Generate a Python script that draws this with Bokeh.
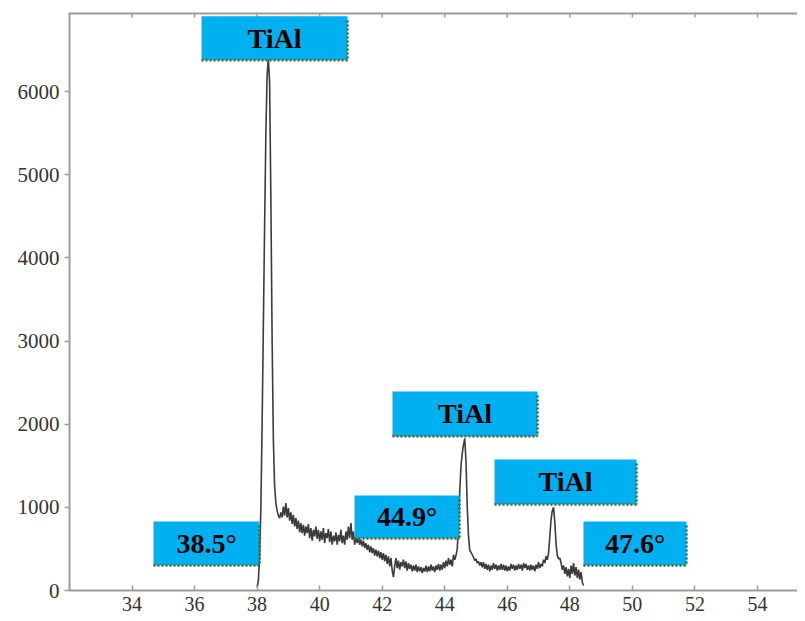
from bokeh.plotting import figure
from bokeh.models import Range1d, FixedTicker, ColumnDataSource
from bokeh.core.properties import value
from bokeh.embed import file_html
from bokeh.resources import INLINE

# ---------------- data ----------------
two_theta = [
    38.00, 38.04, 38.08, 38.12, 38.16, 38.20, 38.24, 38.28, 38.32, 38.36,
    38.40, 38.44, 38.48, 38.52, 38.56, 38.60, 38.64, 38.68, 38.72, 38.76,
    38.80, 38.84, 38.88, 38.92, 38.96, 39.00, 39.04, 39.08, 39.12, 39.16,
    39.20, 39.24, 39.28, 39.32, 39.36, 39.40, 39.44, 39.48, 39.52, 39.56,
    39.60, 39.64, 39.68, 39.72, 39.76, 39.80, 39.84, 39.88, 39.92, 39.96,
    40.00, 40.04, 40.08, 40.12, 40.16, 40.20, 40.24, 40.28, 40.32, 40.36,
    40.40, 40.44, 40.48, 40.52, 40.56, 40.60, 40.64, 40.68, 40.72, 40.76,
    40.80, 40.84, 40.88, 40.92, 40.96, 41.00, 41.04, 41.08, 41.12, 41.16,
    41.20, 41.24, 41.28, 41.32, 41.36, 41.40, 41.44, 41.48, 41.52, 41.56,
    41.60, 41.64, 41.68, 41.72, 41.76, 41.80, 41.84, 41.88, 41.92, 41.96,
    42.00, 42.04, 42.08, 42.12, 42.16, 42.20, 42.24, 42.28, 42.32, 42.36,
    42.40, 42.44, 42.48, 42.52, 42.56, 42.60, 42.64, 42.68, 42.72, 42.76,
    42.80, 42.84, 42.88, 42.92, 42.96, 43.00, 43.04, 43.08, 43.12, 43.16,
    43.20, 43.24, 43.28, 43.32, 43.36, 43.40, 43.44, 43.48, 43.52, 43.56,
    43.60, 43.64, 43.68, 43.72, 43.76, 43.80, 43.84, 43.88, 43.92, 43.96,
    44.00, 44.04, 44.08, 44.12, 44.16, 44.20, 44.24, 44.28, 44.32, 44.36,
    44.40, 44.44, 44.48, 44.52, 44.56, 44.60, 44.64, 44.68, 44.72, 44.76,
    44.80, 44.84, 44.88, 44.92, 44.96, 45.00, 45.04, 45.08, 45.12, 45.16,
    45.20, 45.24, 45.28, 45.32, 45.36, 45.40, 45.44, 45.48, 45.52, 45.56,
    45.60, 45.64, 45.68, 45.72, 45.76, 45.80, 45.84, 45.88, 45.92, 45.96,
    46.00, 46.04, 46.08, 46.12, 46.16, 46.20, 46.24, 46.28, 46.32, 46.36,
    46.40, 46.44, 46.48, 46.52, 46.56, 46.60, 46.64, 46.68, 46.72, 46.76,
    46.80, 46.84, 46.88, 46.92, 46.96, 47.00, 47.04, 47.08, 47.12, 47.16,
    47.20, 47.24, 47.28, 47.32, 47.36, 47.40, 47.44, 47.48, 47.52, 47.56,
    47.60, 47.64, 47.68, 47.72, 47.76, 47.80, 47.84, 47.88, 47.92, 47.96,
    48.00, 48.04, 48.08, 48.12, 48.16, 48.20, 48.24, 48.28, 48.32, 48.36,
    48.40, 48.44,
]
intensity = [
    40, 120, 400, 1000, 2000, 3200, 4400, 5500, 6200, 6400,
    6100, 4700, 3000, 1800, 1250, 1050, 960, 900, 870, 940,
    880, 1010, 900, 1050, 880, 990, 840, 940, 800, 910,
    770, 870, 740, 840, 700, 810, 690, 790, 660, 770,
    690, 800, 630, 750, 600, 730, 650, 770, 620, 730,
    590, 710, 610, 750, 570, 690, 630, 740, 580, 710,
    550, 660, 590, 700, 550, 670, 590, 730, 570, 660,
    550, 710, 610, 770, 630, 810, 610, 710, 550, 650,
    570, 630, 550, 610, 530, 600, 510, 570, 490, 550,
    460, 530, 450, 510, 420, 490, 410, 480, 390, 460,
    370, 450, 350, 430, 320, 410, 290, 390, 240, 160,
    300, 390, 270, 360, 250, 340, 290, 370, 270, 350,
    240, 330, 260, 310, 230, 300, 240, 310, 220, 290,
    230, 280, 210, 270, 230, 300, 220, 290, 230, 310,
    240, 290, 220, 300, 250, 320, 240, 310, 250, 340,
    270, 360, 290, 390, 310, 370, 290, 430, 370, 420,
    500, 800, 1200, 1500, 1650, 1750, 1830, 1550, 1000, 650,
    480, 460, 430, 400, 360, 380, 330, 350, 300, 340,
    280, 340, 260, 320, 250, 310, 230, 300, 250, 330,
    260, 310, 240, 300, 250, 320, 250, 310, 240, 300,
    230, 290, 240, 320, 260, 310, 240, 300, 250, 320,
    260, 310, 240, 330, 270, 320, 250, 300, 240, 310,
    250, 300, 230, 310, 260, 340, 270, 320, 290, 370,
    330, 410, 370, 450, 650, 850, 960, 1000, 820, 560,
    420, 380, 390, 330, 250, 300, 200, 280, 170, 260,
    150, 300, 200, 330, 180, 280, 150, 250, 130, 220,
    100, 60,
]

x_ticks = [34, 36, 38, 40, 42, 44, 46, 48, 50, 52, 54]
y_ticks = [0, 1000, 2000, 3000, 4000, 5000, 6000]

ann_text = ["TiAl", "TiAl", "TiAl", "38.5°", "44.9°", "47.6°"]
ann_x = [38.556, 44.648, 47.862, 36.381, 42.793, 50.084]
ann_y = [6639, 2123, 1305, 565, 884, 565]

# ---------------- layout / style ----------------
W, H = 797, 613
BORDER_L = 69
BORDER_T = 12
X0 = 32.0
Y0, Y1 = 0, 6950
FRAME_W = W - BORDER_L
FRAME_H = 580
PX_X = 31.27
X1 = X0 + FRAME_W / PX_X
PX_Y = FRAME_H / (Y1 - Y0)

box_w = [146, 145, 142, 106, 105, 103]
box_h = [44, 45, 45, 44, 43, 44]

AXIS_GRAY = "#9c9c9c"
LABEL_COLOR = "#333333"

p = figure(width=W, height=H, output_backend="svg", toolbar_location=None,
           x_range=Range1d(X0, X1), y_range=Range1d(Y0, Y1),
           min_border_left=BORDER_L, min_border_right=0, min_border_top=BORDER_T,
           min_border_bottom=0)
p.outline_line_color = None
p.xgrid.visible = False
p.ygrid.visible = False

# bottom axis
xa = p.xaxis[0]
xa.ticker = FixedTicker(ticks=x_ticks)
xa.major_tick_in = 5
xa.major_tick_out = 0
xa.minor_tick_line_color = None
xa.axis_line_color = AXIS_GRAY
xa.axis_line_width = 2
xa.major_tick_line_color = AXIS_GRAY
xa.major_tick_line_width = 1.5
xa.major_label_text_font = "Liberation Serif"
xa.major_label_text_font_size = "20px"
xa.major_label_text_color = LABEL_COLOR
xa.major_label_standoff = 6

# left axis
ya = p.yaxis[0]
ya.ticker = FixedTicker(ticks=y_ticks)
ya.major_tick_in = 0
ya.major_tick_out = 5
ya.minor_tick_line_color = None
ya.axis_line_color = AXIS_GRAY
ya.axis_line_width = 2
ya.major_tick_line_color = AXIS_GRAY
ya.major_tick_line_width = 1.5
ya.major_label_text_font = "Liberation Serif"
ya.major_label_text_font_size = "21px"
ya.major_label_text_color = LABEL_COLOR
ya.major_label_standoff = 5

# top border with inward ticks
p.segment(x0=[X0], y0=[Y1], x1=[X1], y1=[Y1], line_color=AXIS_GRAY, line_width=4)
p.segment(x0=x_ticks, y0=[Y1] * len(x_ticks), x1=x_ticks,
          y1=[Y1 - 5 / PX_Y] * len(x_ticks), line_color=AXIS_GRAY, line_width=1.5)

# curve
src = ColumnDataSource(dict(x=two_theta, y=intensity))
p.line("x", "y", source=src, line_color="#262626", line_width=1.6, line_alpha=0.9)

# annotation boxes
ann = ColumnDataSource(dict(x=ann_x, y=ann_y, t=ann_text, w=box_w, h=box_h))
p.rect("x", "y", width="w", height="h", width_units="screen", height_units="screen",
       source=ann, fill_color="#00b0f0", line_color=None)

# dotted bottom / right edges
x0s, y0s, x1s, y1s = [], [], [], []
for cx, cy, w, h in zip(ann_x, ann_y, box_w, box_h):
    left = cx - (w / 2) / PX_X
    right = cx + (w / 2) / PX_X
    bot = cy - (h / 2) / PX_Y
    top = cy + (h / 2 - 4) / PX_Y
    x0s += [left, right]
    y0s += [bot, top]
    x1s += [right, right]
    y1s += [bot, bot]
p.segment(x0=x0s, y0=y0s, x1=x1s, y1=y1s, line_color="#4f6228",
          line_width=2.5, line_dash="2 2")

p.text("x", "y", text="t", source=ann, text_align="center", text_baseline="middle",
       text_font=value("Liberation Serif"), text_font_style="bold",
       text_font_size="28px", text_color="black")

open("out.html", "w").write(file_html(p, INLINE))
